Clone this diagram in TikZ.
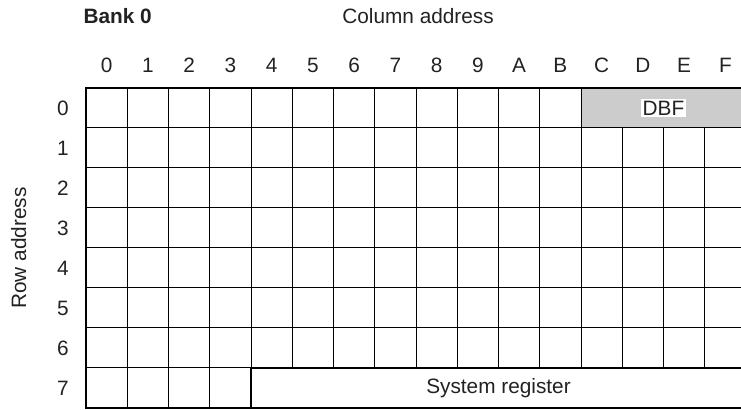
\documentclass[tikz,border=0pt]{standalone}
\usepackage{fontspec}
\setmainfont{Liberation Sans}
\usepackage{tikz}
\usepackage{xcolor}
\definecolor{dbfgray}{HTML}{CCCCCC}
\definecolor{inkgray}{HTML}{222222}

\begin{document}
\begin{tikzpicture}[x=20.625pt,y=-20pt,
    lbl/.style={font=\fontsize{10.4}{12.5}\selectfont,text=inkgray,inner sep=0pt},
    gridline/.style={line width=0.5pt},
    frame/.style={line width=1.1pt}]
    \clip (-2.085,-2.2) rectangle (15.879,8.05);
    \node[lbl,anchor=base west,font=\fontsize{10.4}{12.5}\selectfont\bfseries] (bank) at (-0.07,-1.6) {Bank 0};
    \node[lbl,anchor=base] (coladdr) at (8.05,-1.6) {Column address};
    \node[lbl,anchor=base,rotate=90] (rowaddr) at (-1.45,4) {Row address};
    \foreach \x/\lab in {0/0,1/1,2/2,3/3,4/4,5/5,6/6,7/7,8/8,9/9,10/A,11/B,12/C,13/D,14/E,15/F}{
        \node[lbl,anchor=base] (c\lab) at (\x+0.5,-0.375) {\lab};
    }
    \foreach \y in {0,...,7}{
        \node[lbl,anchor=base] (r\y) at (-0.56,\y+0.69) {\y};
    }
    \foreach \x in {1,...,15}{
        \draw[gridline] (\x,0) -- (\x,8);
    }
    \foreach \y in {1,...,7}{
        \draw[gridline] (0,\y) -- (16,\y);
    }
    \draw[gridline,fill=dbfgray] (12,0) rectangle (16,1);
    \node[lbl,fill=white,inner sep=1pt] (dbf) at (14,0.5) {DBF};
    \draw[frame,fill=white] (4,7) rectangle (16,8);
    \node[lbl] (sysreg) at (10,7.5) {System register};
    \draw[frame] (0,0) rectangle (16,8);
\end{tikzpicture}
\end{document}
